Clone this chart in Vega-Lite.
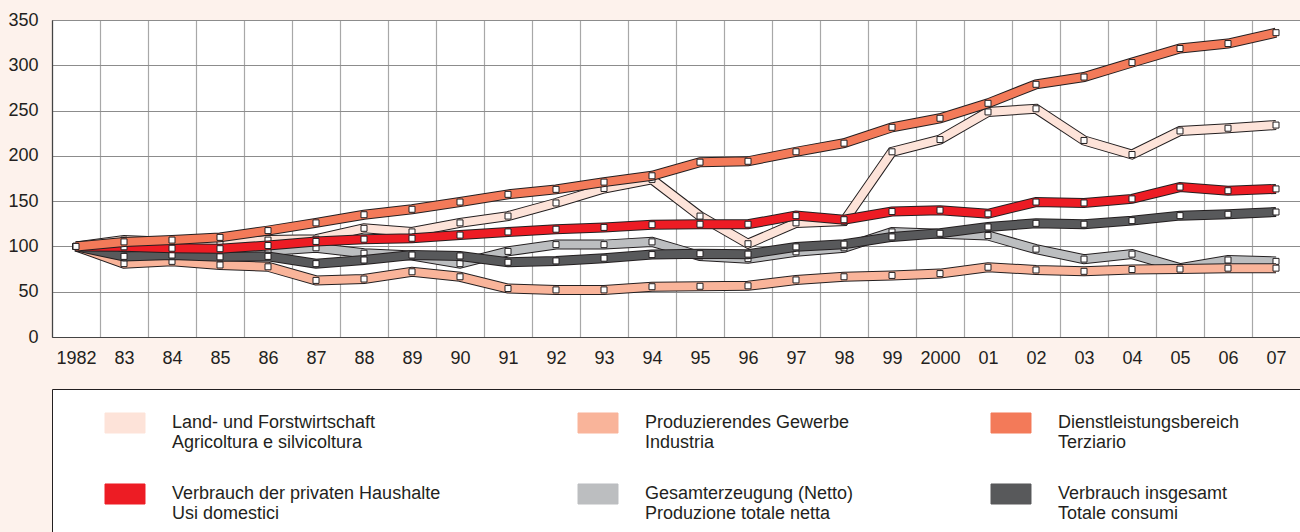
{
  "$schema": "https://vega.github.io/schema/vega-lite/v6.json",
  "width": 1248,
  "height": 317,
  "autosize": {"type": "none"},
  "padding": {"left": 52, "top": 20, "right": 0, "bottom": 195},
  "background": "#fdf2ec",
  "config": {
    "font": "Liberation Sans",
    "view": {"fill": "white", "stroke": "#555555", "strokeWidth": 1}
  },
  "data": {
    "values": [
      {"year": 1982, "L": 100, "P": 100, "D": 100, "H": 100, "G": 100, "T": 100},
      {"year": 1983, "L": 107, "P": 81, "D": 105, "H": 99.6, "G": 90, "T": 89},
      {"year": 1984, "L": 105, "P": 83.5, "D": 107, "H": 98, "G": 91, "T": 90.5},
      {"year": 1985, "L": 104, "P": 79.5, "D": 110, "H": 97.5, "G": 92, "T": 88.5},
      {"year": 1986, "L": 107, "P": 77.5, "D": 117.5, "H": 101, "G": 95, "T": 89},
      {"year": 1987, "L": 108, "P": 62.5, "D": 126, "H": 105.5, "G": 98.5, "T": 81},
      {"year": 1988, "L": 120, "P": 64, "D": 135, "H": 108, "G": 92.5, "T": 85},
      {"year": 1989, "L": 116, "P": 72, "D": 141, "H": 109, "G": 90, "T": 90.5},
      {"year": 1990, "L": 126, "P": 66.5, "D": 149, "H": 112.5, "G": 81, "T": 89.5},
      {"year": 1991, "L": 133.5, "P": 53.5, "D": 157.5, "H": 116, "G": 94.5, "T": 82.5},
      {"year": 1992, "L": 148, "P": 52, "D": 163, "H": 119, "G": 102, "T": 84},
      {"year": 1993, "L": 164, "P": 52, "D": 171, "H": 121, "G": 102, "T": 87},
      {"year": 1994, "L": 174, "P": 55.5, "D": 178, "H": 124, "G": 105, "T": 91},
      {"year": 1995, "L": 133.5, "P": 56, "D": 193, "H": 124.5, "G": 89.5, "T": 92},
      {"year": 1996, "L": 103, "P": 56.5, "D": 194, "H": 124.5, "G": 86.5, "T": 91.5},
      {"year": 1997, "L": 126, "P": 63, "D": 204.5, "H": 134, "G": 94, "T": 99.5},
      {"year": 1998, "L": 128, "P": 66.5, "D": 214, "H": 129.5, "G": 98.5, "T": 102.5},
      {"year": 1999, "L": 204.5, "P": 68, "D": 231.5, "H": 138.5, "G": 116, "T": 110.5},
      {"year": 2000, "L": 218, "P": 70, "D": 241.5, "H": 140, "G": 114, "T": 114.5},
      {"year": 2001, "L": 248.5, "P": 77, "D": 258, "H": 136, "G": 112, "T": 121.5},
      {"year": 2002, "L": 252, "P": 74, "D": 279, "H": 149, "G": 97, "T": 125.5},
      {"year": 2003, "L": 217, "P": 72.5, "D": 287, "H": 148, "G": 86, "T": 124.5},
      {"year": 2004, "L": 201.5, "P": 74.5, "D": 303, "H": 152.5, "G": 91.5, "T": 128.5},
      {"year": 2005, "L": 227.5, "P": 75, "D": 318.5, "H": 165.5, "G": 76, "T": 134},
      {"year": 2006, "L": 230.5, "P": 76, "D": 324, "H": 161.5, "G": 85, "T": 135.5},
      {"year": 2007, "L": 234, "P": 76, "D": 336, "H": 163.5, "G": 83.5, "T": 138}
    ]
  },
  "encoding": {
    "x": {
      "field": "year",
      "type": "quantitative",
      "scale": {"domain": [1981.5, 2007.5], "nice": false, "zero": false},
      "axis": {
        "title": null,
        "values": [1982, 1983, 1984, 1985, 1986, 1987, 1988, 1989, 1990, 1991, 1992, 1993, 1994, 1995, 1996, 1997, 1998, 1999, 2000, 2001, 2002, 2003, 2004, 2005, 2006, 2007],
        "labelExpr": "datum.value == 1982 || datum.value == 2000 ? '' + datum.value : substring('' + datum.value, 2)",
        "tickOffset": -24,
        "labelOffset": 24,
        "ticks": false,
        "grid": true,
        "gridColor": "#a8a8a8",
        "gridWidth": 1.2,
        "domainColor": "#444444",
        "domainWidth": 1.2,
        "labelFontSize": 18,
        "labelColor": "#231f20",
        "labelPadding": 12,
        "labelFlush": false,
        "labelOverlap": false,
        "labelBound": false
      }
    }
  },
  "layer": [
    {
      "mark": {"type": "square", "stroke": "#231f20", "strokeWidth": 1, "opacity": 0, "size": 10},
      "encoding": {
        "y": {"field": "L", "type": "quantitative", "scale": {"domain": [0, 350]},
          "axis": {"title": null, "values": [0, 50, 100, 150, 200, 250, 300, 350], "ticks": false, "grid": true, "gridColor": "#8c8c8c", "gridWidth": 1, "domainColor": "#444444", "domainWidth": 1.2, "labelFontSize": 18, "labelColor": "#231f20", "labelPadding": 14}},
        "fill": {"datum": "Land- und Forstwirtschaft|Agricoltura e silvicoltura", "type": "nominal",
          "scale": {
            "domain": ["Land- und Forstwirtschaft|Agricoltura e silvicoltura", "Produzierendes Gewerbe|Industria", "Dienstleistungsbereich|Terziario", "Verbrauch der privaten Haushalte|Usi domestici", "Gesamterzeugung (Netto)|Produzione totale netta", "Verbrauch insgesamt|Totale consumi"],
            "range": ["#fde3d9", "#f9b49a", "#f37a59", "#ed1c24", "#bcbec0", "#58595b"]
          },
          "legend": {
            "orient": "none",
            "legendX": 0,
            "legendY": 369,
            "columns": 3,
            "direction": "horizontal",
            "title": "\u00a0",
            "titleOrient": "right",
            "titlePadding": 42,
            "padding": 24,
            "fillColor": "white",
            "strokeColor": "#231f20",
            "symbolType": "M-2.105,-1.053H2.105V1.053H-2.105Z",
            "symbolSize": 361,
            "symbolOffset": 39,
            "symbolOpacity": 1,
            "symbolStrokeColor": "#231f20",
            "symbolStrokeWidth": 1,
            "labelExpr": "split(datum.label, '|')",
            "labelFontSize": 18,
            "labelColor": "#231f20",
            "labelOffset": 37,
            "labelLimit": 400,
            "labelBaseline": "middle",
            "columnPadding": 108,
            "rowPadding": 29,
            "encode": {
              "symbols": {"update": {"stroke": {"value": "#231f20"}, "strokeWidth": {"value": 1}, "strokeOpacity": {"value": 1}}},
              "labels": {"update": {"lineHeight": {"value": 20}}}
            }
          }
        }
      }
    },
    {
      "encoding": {"y": {"field": "L", "type": "quantitative"}},
      "layer": [
        {"mark": {"type": "line", "stroke": "#231f20", "strokeWidth": 10}, "encoding": {}},
        {"mark": {"type": "line", "strokeWidth": 8},
          "encoding": {"color": {"datum": "Land- und Forstwirtschaft|Agricoltura e silvicoltura", "type": "nominal", "legend": null,
            "scale": {
              "domain": ["Land- und Forstwirtschaft|Agricoltura e silvicoltura", "Produzierendes Gewerbe|Industria", "Dienstleistungsbereich|Terziario", "Verbrauch der privaten Haushalte|Usi domestici", "Gesamterzeugung (Netto)|Produzione totale netta", "Verbrauch insgesamt|Totale consumi"],
              "range": ["#fde3d9", "#f9b49a", "#f37a59", "#ed1c24", "#bcbec0", "#58595b"]
            }}}},
        {"mark": {"type": "point", "shape": "square", "filled": true, "fill": "white", "stroke": "#231f20", "strokeWidth": 1, "size": 36, "opacity": 1}, "encoding": {}}
      ]
    },
    {
      "encoding": {"y": {"field": "G", "type": "quantitative"}},
      "layer": [
        {"mark": {"type": "line", "stroke": "#231f20", "strokeWidth": 10}, "encoding": {}},
        {"mark": {"type": "line", "strokeWidth": 8}, "encoding": {"color": {"datum": "Gesamterzeugung (Netto)|Produzione totale netta", "type": "nominal", "legend": null}}},
        {"mark": {"type": "point", "shape": "square", "filled": true, "fill": "white", "stroke": "#231f20", "strokeWidth": 1, "size": 36, "opacity": 1}, "encoding": {}}
      ]
    },
    {
      "encoding": {"y": {"field": "P", "type": "quantitative"}},
      "layer": [
        {"mark": {"type": "line", "stroke": "#231f20", "strokeWidth": 10}, "encoding": {}},
        {"mark": {"type": "line", "strokeWidth": 8}, "encoding": {"color": {"datum": "Produzierendes Gewerbe|Industria", "type": "nominal", "legend": null}}},
        {"mark": {"type": "point", "shape": "square", "filled": true, "fill": "white", "stroke": "#231f20", "strokeWidth": 1, "size": 36, "opacity": 1}, "encoding": {}}
      ]
    },
    {
      "encoding": {"y": {"field": "T", "type": "quantitative"}},
      "layer": [
        {"mark": {"type": "line", "stroke": "#231f20", "strokeWidth": 10}, "encoding": {}},
        {"mark": {"type": "line", "strokeWidth": 8}, "encoding": {"color": {"datum": "Verbrauch insgesamt|Totale consumi", "type": "nominal", "legend": null}}},
        {"mark": {"type": "point", "shape": "square", "filled": true, "fill": "white", "stroke": "#231f20", "strokeWidth": 1, "size": 36, "opacity": 1}, "encoding": {}}
      ]
    },
    {
      "encoding": {"y": {"field": "H", "type": "quantitative"}},
      "layer": [
        {"mark": {"type": "line", "stroke": "#231f20", "strokeWidth": 10}, "encoding": {}},
        {"mark": {"type": "line", "strokeWidth": 8}, "encoding": {"color": {"datum": "Verbrauch der privaten Haushalte|Usi domestici", "type": "nominal", "legend": null}}},
        {"mark": {"type": "point", "shape": "square", "filled": true, "fill": "white", "stroke": "#231f20", "strokeWidth": 1, "size": 36, "opacity": 1}, "encoding": {}}
      ]
    },
    {
      "encoding": {"y": {"field": "D", "type": "quantitative"}},
      "layer": [
        {"mark": {"type": "line", "stroke": "#231f20", "strokeWidth": 10}, "encoding": {}},
        {"mark": {"type": "line", "strokeWidth": 8}, "encoding": {"color": {"datum": "Dienstleistungsbereich|Terziario", "type": "nominal", "legend": null}}},
        {"mark": {"type": "point", "shape": "square", "filled": true, "fill": "white", "stroke": "#231f20", "strokeWidth": 1, "size": 36, "opacity": 1}, "encoding": {}}
      ]
    }
  ]
}
